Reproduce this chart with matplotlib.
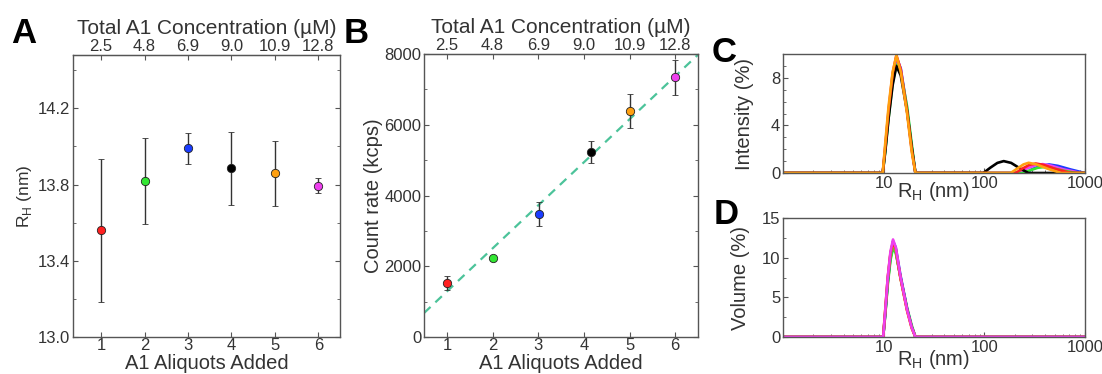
import numpy as np
import matplotlib.pyplot as plt
from matplotlib.ticker import MultipleLocator, LogLocator, NullFormatter

plt.rcParams["font.family"] = ["Liberation Sans", "DejaVu Sans"]
plt.rcParams["mathtext.fontset"] = "custom"
plt.rcParams["mathtext.rm"] = "Liberation Sans"

# ---- data ----
colors = ["#ff2020", "#33e633", "#1a3cff", "#000000", "#ffa010", "#ee40ee"]
aliquots = [1, 2, 3, 4, 5, 6]
conc_labels = ["2.5", "4.8", "6.9", "9.0", "10.9", "12.8"]

rh_mean = [13.56, 13.82, 13.99, 13.885, 13.86, 13.795]
rh_err = [0.375, 0.225, 0.08, 0.19, 0.17, 0.037]

count_x = [1, 2, 3.01, 4.15, 5.01, 6]
count_rate = [1527, 2234, 3478, 5231, 6390, 7342]
count_err = [190, 50, 340, 305, 485, 495]
fit_slope = 1217
fit_intercept = 70

# C: intensity distributions (main peak on a shared grid + aggregate hump)
rc_main = [9.8, 10.4, 11.2, 12.3, 13.4, 14.8, 17.1, 19.0, 20.7]
int_main = {
    "red":     [0, 2.3, 5.3, 8.4, 9.9, 8.7, 5.2, 2.0, 0],
    "green":   [0, 1.8, 4.6, 7.6, 9.1, 8.5, 5.6, 2.5, 0],
    "blue":    [0, 2.0, 4.9, 8.0, 9.7, 8.8, 5.4, 2.2, 0],
    "black":   [0, 1.9, 4.6, 7.4, 9.0, 8.2, 5.2, 2.2, 0],
    "orange":  [0, 2.6, 5.6, 8.5, 9.9, 8.5, 5.0, 1.8, 0],
    "magenta": [0, 2.2, 5.1, 8.2, 9.8, 8.7, 5.2, 2.0, 0],
}
agg_r = {
    "red":     [205, 240, 280, 325, 390, 520, 725],
    "green":   [240, 285, 340, 390, 470, 610, 815],
    "blue":    [258, 300, 370, 440, 540, 720, 1000],
    "black":   [98, 115, 135, 156, 185, 225, 275],
    "orange":  [183, 215, 245, 276, 330, 430, 577],
    "magenta": [220, 260, 320, 380, 460, 620, 915],
}
agg_int = {
    "red":     [0, 0.38, 0.68, 0.80, 0.68, 0.32, 0],
    "green":   [0, 0.23, 0.44, 0.50, 0.42, 0.20, 0],
    "blue":    [0, 0.33, 0.62, 0.72, 0.60, 0.30, 0],
    "black":   [0, 0.45, 0.85, 1.00, 0.85, 0.40, 0],
    "orange":  [0, 0.40, 0.72, 0.86, 0.72, 0.35, 0],
    "magenta": [0, 0.35, 0.65, 0.75, 0.62, 0.30, 0],
}

# D: volume distributions
rd_main = [9.9, 10.4, 11.0, 11.7, 12.4, 13.2, 14.7, 17.1, 19.0, 20.7]
vol_main = {
    "red":     [0, 3.5, 7.5, 10.6, 12.0, 11.1, 7.5, 3.4, 1.2, 0],
    "green":   [0, 2.9, 6.6, 9.7, 11.2, 10.6, 7.6, 3.7, 1.5, 0],
    "blue":    [0, 3.2, 7.2, 10.4, 12.1, 11.3, 7.8, 3.6, 1.3, 0],
    "black":   [0, 3.0, 6.9, 10.0, 11.5, 10.8, 7.5, 3.5, 1.3, 0],
    "orange":  [0, 3.6, 7.5, 10.5, 11.9, 11.0, 7.4, 3.3, 1.1, 0],
    "magenta": [0, 3.5, 7.6, 10.8, 12.3, 11.3, 7.6, 3.4, 1.2, 0],
}
names = ["red", "green", "blue", "black", "orange", "magenta"]
cmap = dict(zip(names, colors))

TXT = "#333333"
SPINE = "#555555"


def style(ax, fs=12):
    for s in ax.spines.values():
        s.set_color(SPINE)
        s.set_linewidth(1.0)
    ax.tick_params(which="both", direction="in", colors=SPINE, labelcolor=TXT,
                   labelsize=fs, right=True, pad=2)
    ax.tick_params(which="major", length=3.5)
    ax.tick_params(which="minor", length=2)


def top_axis(ax):
    top = ax.secondary_xaxis("top")
    top.set_xticks(aliquots, conc_labels)
    top.tick_params(direction="in", colors=SPINE, labelcolor=TXT, labelsize=12,
                    length=3.5, pad=1)
    top.spines["top"].set_color(SPINE)
    top.set_xlabel("Total A1 Concentration (\u00b5M)", fontsize=15, color=TXT, labelpad=3)
    return top


fig = plt.figure(figsize=(11.02, 3.74), dpi=100)

# ---- A ----
axA = fig.add_axes([0.0662, 0.0989, 0.2423, 0.754])
for x, y, e, c in zip(aliquots, rh_mean, rh_err, colors):
    axA.errorbar(x, y, yerr=e, fmt="o", color="#333333", ecolor="#333333",
                 elinewidth=1.0, capsize=2, markersize=6,
                 markerfacecolor=c, markeredgecolor="#222222", markeredgewidth=0.6)
axA.set_xlim(0.35, 6.5)
axA.set_ylim(13.0, 14.48)
axA.set_xticks(aliquots)
axA.set_yticks([13.0, 13.4, 13.8, 14.2])
axA.yaxis.set_minor_locator(MultipleLocator(0.2))
style(axA)
axA.tick_params(top=False)
axA.tick_params(axis="x", pad=1)
axA.set_xlabel("A1 Aliquots Added", fontsize=14.5, color=TXT, labelpad=0.5)
axA.set_ylabel(r"R$_\mathrm{H}$ (nm)", fontsize=12.5, color=TXT, labelpad=3)
top_axis(axA)

# ---- B ----
axB = fig.add_axes([0.3848, 0.0989, 0.2486, 0.7567])
xl = np.array([0.5, 6.5])
axB.plot(xl, fit_slope * xl + fit_intercept, ls=(0, (4, 3)), color="#4cc39a", lw=1.6, zorder=1)
for x, y, e, c in zip(count_x, count_rate, count_err, colors):
    axB.errorbar(x, y, yerr=e, fmt="o", color="#333333", ecolor="#333333",
                 elinewidth=1.0, capsize=2, markersize=6, zorder=3,
                 markerfacecolor=c, markeredgecolor="#222222", markeredgewidth=0.6)
axB.set_xlim(0.5, 6.5)
axB.set_ylim(0, 8000)
axB.set_xticks(aliquots)
axB.set_yticks([0, 2000, 4000, 6000, 8000])
axB.yaxis.set_minor_locator(MultipleLocator(1000))
style(axB)
axB.tick_params(top=False)
axB.tick_params(axis="x", pad=1)
axB.set_xlabel("A1 Aliquots Added", fontsize=14.5, color=TXT, labelpad=0.5)
axB.set_ylabel("Count rate (kcps)", fontsize=14.5, color=TXT, labelpad=1)
top_axis(axB)


def log_axis(ax):
    ax.set_xscale("log")
    ax.set_xlim(1, 1000)
    ax.set_xticks([10, 100, 1000], ["10", "100", "1000"])
    ax.xaxis.set_minor_locator(LogLocator(base=10, subs=np.arange(2, 10)))
    ax.xaxis.set_minor_formatter(NullFormatter())


# ---- C ----
axC = fig.add_axes([0.7105, 0.5374, 0.274, 0.318])
for n in ["blue", "magenta", "green", "black", "red", "orange"]:
    xs = [1] + rc_main + agg_r[n] + [1000]
    ys = [0] + int_main[n] + agg_int[n] + [0]
    axC.plot(xs, ys, color=cmap[n], lw=1.9)
log_axis(axC)
axC.set_ylim(0, 10)
axC.set_yticks([0, 4, 8])
axC.yaxis.set_minor_locator(MultipleLocator(1))
style(axC)
axC.tick_params(axis="y", which="both", right=False)
axC.set_xlabel(r"R$_\mathrm{H}$ (nm)", fontsize=14.5, color=TXT, labelpad=-8)
axC.set_ylabel("Intensity (%)", fontsize=14.5, color=TXT)
axC.yaxis.set_label_coords(-0.095, 0.5)

# ---- D ----
axD = fig.add_axes([0.7105, 0.0989, 0.274, 0.318])
for n in ["black", "green", "blue", "orange", "red", "magenta"]:
    xs = [1] + rd_main + [1000]
    ys = [0] + vol_main[n] + [0]
    axD.plot(xs, ys, color=cmap[n], lw=1.9)
log_axis(axD)
axD.set_ylim(0, 15)
axD.set_yticks([0, 5, 10, 15])
axD.yaxis.set_minor_locator(MultipleLocator(2.5))
style(axD)
axD.tick_params(axis="y", which="both", right=False)
axD.set_xlabel(r"R$_\mathrm{H}$ (nm)", fontsize=14.5, color=TXT, labelpad=-5)
axD.set_ylabel("Volume (%)", fontsize=14.5, color=TXT)
axD.yaxis.set_label_coords(-0.11, 0.5)

# panel letters
for lbl, x, y in [("A", 0.010, 0.885), ("B", 0.312, 0.885), ("C", 0.646, 0.835), ("D", 0.648, 0.400)]:
    fig.text(x, y, lbl, fontsize=25, fontweight="bold", color="black")

fig.savefig("out.png", dpi=100)
